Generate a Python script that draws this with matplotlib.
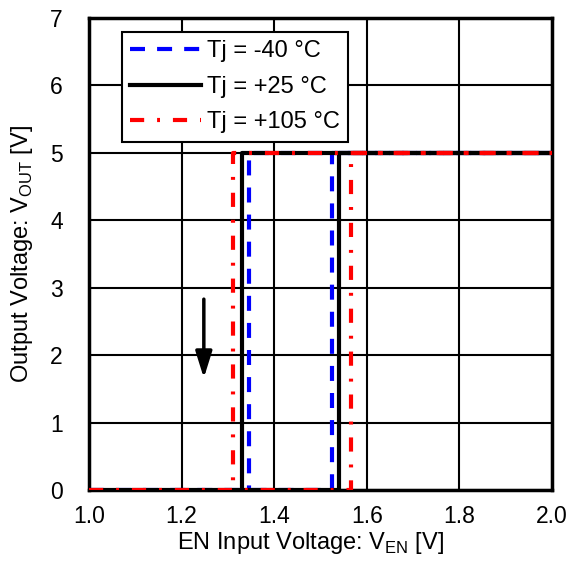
import matplotlib.pyplot as plt

plt.rcParams['font.family'] = ['Liberation Sans', 'DejaVu Sans']

# thresholds (V)
labels = ["Tj = -40 °C", "Tj = +25 °C", "Tj = +105 °C"]
v_rise = [1.524, 1.541, 1.566]
v_fall = [1.345, 1.330, 1.311]
v_out_high = 5.0
colors = ["#0000ff", "#000000", "#ff0000"]
styles = [(0, (3.6, 2.9)), "-", (0, (3.4, 3.1, 0.7, 3.1))]

arrow_x = 1.248
arrow_y = [2.83, 1.66]


def main():
    fig = plt.figure(figsize=(5.67, 5.71), dpi=100)
    ax = fig.add_axes([0.157, 0.1419, 0.8165, 0.8266])

    for i in range(len(labels)):
        xs = [1.0, v_rise[i], v_rise[i], 2.0, v_fall[i], v_fall[i]]
        ys = [0, 0, v_out_high, v_out_high, v_out_high, 0]
        ax.plot(xs, ys, color=colors[i], linestyle=styles[i], linewidth=3,
                dash_capstyle="butt", label=labels[i], zorder=3 + i)

    ax.annotate("", xy=(arrow_x, arrow_y[1]), xytext=(arrow_x, arrow_y[0]),
                arrowprops=dict(arrowstyle="-|>,head_width=0.5,head_length=1.6",
                                color="black", lw=2.5, shrinkA=0, shrinkB=0),
                zorder=6)

    ax.set_xlim(1.0, 2.0)
    ax.set_ylim(0, 7)
    ax.set_xticks([1.0, 1.2, 1.4, 1.6, 1.8, 2.0])
    ax.set_yticks(range(8))
    ax.grid(True, color="black", linewidth=1.5)
    ax.tick_params(length=0, labelsize=16.5)
    ax.tick_params(axis="x", pad=11)
    ax.tick_params(axis="y", pad=19)
    for s in ax.spines.values():
        s.set_linewidth(2.5)

    ax.set_xlabel(r"EN Input Voltage: V$_{\mathregular{EN}}$ [V]", fontsize=17,
                  labelpad=1, x=0.478)
    ax.set_ylabel(r"Output Voltage: V$_{\mathregular{OUT}}$ [V]", fontsize=17,
                  labelpad=11)

    leg = ax.legend(loc="upper left", bbox_to_anchor=(0.071, 0.97), fontsize=17,
                    handlelength=3.0, handletextpad=0.25, fancybox=False,
                    framealpha=1, borderpad=0.35, labelspacing=0.57,
                    borderaxespad=0)
    leg.get_frame().set_edgecolor("black")
    leg.get_frame().set_linewidth(1.5)
    leg.set_zorder(10)

    fig.savefig("out.png")


if __name__ == "__main__":
    main()
